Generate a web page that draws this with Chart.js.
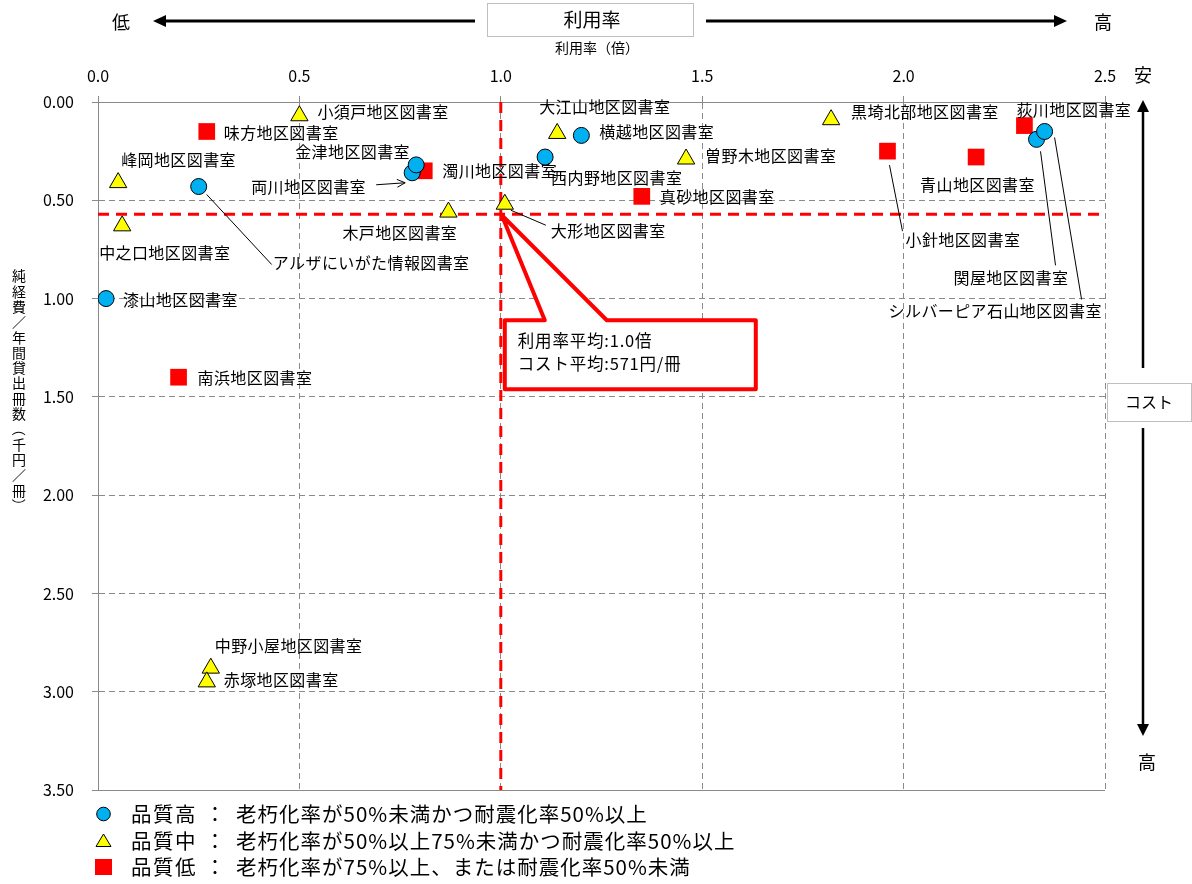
<!DOCTYPE html>
<html><head><meta charset="utf-8">
<script src="https://cdn.jsdelivr.net/npm/chart.js@4.4.1/dist/chart.umd.min.js"></script>
<style>html,body{margin:0;padding:0;background:#fff;}#wrap{width:1192px;height:884px;position:relative;}</style>
</head><body><div id="wrap"><canvas id="c" width="1192" height="884"></canvas></div>
<script>
// ---- data ----
const xTickStep = 0.5, xMin = 0, xMax = 2.5;
const yTickStep = 0.5, yMin = 0, yMax = 3.5;

const highNames = ['漆山地区図書室','アルザにいがた情報図書室','両川地区図書室','金津地区図書室','西内野地区図書室','横越地区図書室','関屋地区図書室','シルバーピア石山地区図書室'];
const highX = [0.02, 0.25, 0.78, 0.79, 1.11, 1.20, 2.33, 2.35];
const highY = [1.00, 0.43, 0.36, 0.32, 0.28, 0.17, 0.19, 0.15];

const midNames = ['小須戸地区図書室','峰岡地区図書室','中之口地区図書室','木戸地区図書室','大形地区図書室','大江山地区図書室','曽野木地区図書室','黒埼北部地区図書室','中野小屋地区図書室','赤塚地区図書室'];
const midX = [0.50, 0.05, 0.06, 0.87, 1.01, 1.14, 1.46, 1.82, 0.28, 0.27];
const midY = [0.07, 0.41, 0.63, 0.56, 0.52, 0.16, 0.29, 0.09, 2.88, 2.95];

const lowNames = ['味方地区図書室','濁川地区図書室','真砂地区図書室','小針地区図書室','青山地区図書室','荻川地区図書室','南浜地区図書室'];
const lowX = [0.27, 0.81, 1.35, 1.96, 2.18, 2.30, 0.20];
const lowY = [0.15, 0.35, 0.48, 0.25, 0.28, 0.12, 1.40];

const avgUsage = 1.0;
const avgCost = 0.571;
const seriesNames = ['品質高','品質中','品質低'];
const seriesNotes = ['老朽化率が50%未満かつ耐震化率50%以上','老朽化率が50%以上75%未満かつ耐震化率50%以上','老朽化率が75%以上、または耐震化率50%未満'];
const calloutLines = ['利用率平均:1.0倍','コスト平均:571円/冊'];
const xTitle = '利用率（倍）';
const yTitle = '純経費／年間貸出冊数（千円／冊）';

// ---- label placement (pixel offsets from each point) ----
const labelLayout = {
 '漆山地区図書室': {dx:17, dy:1},
 'アルザにいがた情報図書室': {dx:74, dy:76, line:[8,8,73,78]},
 '両川地区図書室': {dx:-161, dy:14, arrow:[-36,12,-7,10]},
 '金津地区図書室': {dx:-121, dy:-13},
 '西内野地区図書室': {dx:6, dy:21},
 '横越地区図書室': {dx:18, dy:-3},
 '関屋地区図書室': {dx:-83, dy:139, line:[4,12,19,126]},
 'シルバーピア石山地区図書室': {dx:-156, dy:179, line:[10,6,37,168]},
 '小須戸地区図書室': {dx:18, dy:-4},
 '峰岡地区図書室': {dx:3, dy:-23},
 '中之口地区図書室': {dx:-23, dy:27},
 '木戸地区図書室': {dx:-106, dy:21},
 '大形地区図書室': {dx:46, dy:27, line:[6,6,41,21]},
 '大江山地区図書室': {dx:-18, dy:-27},
 '曽野木地区図書室': {dx:19, dy:-3},
 '黒埼北部地区図書室': {dx:20, dy:-8},
 '中野小屋地区図書室': {dx:4, dy:-22},
 '赤塚地区図書室': {dx:17, dy:-2},
 '味方地区図書室': {dx:17, dy:1},
 '濁川地区図書室': {dx:18, dy:0},
 '真砂地区図書室': {dx:18, dy:1},
 '小針地区図書室': {dx:18, dy:89, line:[2,14,15,80]},
 '青山地区図書室': {dx:-56, dy:28},
 '荻川地区図書室': {dx:-8, dy:-16},
 '南浜地区図書室': {dx:19, dy:1}
};

const F = "'Noto Sans CJK JP', 'Noto Sans', sans-serif";
Chart.defaults.font.family = F;
Chart.defaults.color = '#000';
const GRID = '#8a8a8a';
const toPts = (xs, ys) => xs.map((v, i) => ({x: v, y: ys[i]}));
const namesByDs = [highNames, midNames, lowNames];

function arrowHead(ctx, x, y, dir, len, half) {
  ctx.beginPath();
  if (dir === 'left') { ctx.moveTo(x, y); ctx.lineTo(x + len, y - half); ctx.lineTo(x + len, y + half); }
  if (dir === 'right') { ctx.moveTo(x, y); ctx.lineTo(x - len, y - half); ctx.lineTo(x - len, y + half); }
  if (dir === 'up') { ctx.moveTo(x, y); ctx.lineTo(x - half, y + len); ctx.lineTo(x + half, y + len); }
  if (dir === 'down') { ctx.moveTo(x, y); ctx.lineTo(x - half, y - len); ctx.lineTo(x + half, y - len); }
  ctx.closePath(); ctx.fill();
}

const decoPlugin = {
  id: 'deco',
  afterDatasetsDraw(chart) {
    const ctx = chart.ctx;
    ctx.save();
    // point labels
    ctx.font = '16px ' + F;
    ctx.letterSpacing = '0.4px';
    ctx.fillStyle = '#000';
    ctx.strokeStyle = '#000';
    ctx.lineWidth = 1;
    ctx.textAlign = 'left';
    ctx.textBaseline = 'middle';
    for (let d = 0; d < 3; d++) {
      const meta = chart.getDatasetMeta(d);
      meta.data.forEach((el, j) => {
        const name = namesByDs[d][j];
        const L = labelLayout[name];
        if (!L) return;
        const px = el.x, py = el.y;
        if (L.line) {
          ctx.beginPath(); ctx.moveTo(px + L.line[0], py + L.line[1]); ctx.lineTo(px + L.line[2], py + L.line[3]); ctx.stroke();
        }
        if (L.arrow) {
          const x1 = px + L.arrow[0], y1 = py + L.arrow[1], x2 = px + L.arrow[2], y2 = py + L.arrow[3];
          ctx.beginPath(); ctx.moveTo(x1, y1); ctx.lineTo(x2, y2); ctx.stroke();
          const a = Math.atan2(y2 - y1, x2 - x1);
          ctx.beginPath();
          ctx.moveTo(x2 - 9 * Math.cos(a - 0.45), y2 - 9 * Math.sin(a - 0.45));
          ctx.lineTo(x2, y2);
          ctx.lineTo(x2 - 9 * Math.cos(a + 0.45), y2 - 9 * Math.sin(a + 0.45));
          ctx.stroke();
        }
        ctx.fillText(name, px + L.dx, py + L.dy);
      });
    }
    // callout
    const xs = chart.scales.x, ys = chart.scales.y;
    const ax = xs.getPixelForValue(avgUsage), ay = ys.getPixelForValue(avgCost);
    const L = ax + 4, R = ax + 255, T = ay + 106, B = ay + 175;
    ctx.beginPath();
    ctx.moveTo(L, T); ctx.lineTo(ax + 44, T); ctx.lineTo(ax + 1, ay + 1); ctx.lineTo(ax + 106, T);
    ctx.lineTo(R, T); ctx.lineTo(R, B); ctx.lineTo(L, B); ctx.closePath();
    ctx.fillStyle = '#fff'; ctx.fill();
    ctx.strokeStyle = '#ff0000'; ctx.lineWidth = 4; ctx.lineJoin = 'round'; ctx.stroke();
    ctx.fillStyle = '#000';
    ctx.font = '16.5px ' + F;
    ctx.letterSpacing = '0.8px';
    ctx.fillText(calloutLines[0], L + 13, T + 20);
    ctx.fillText(calloutLines[1], L + 13, T + 43);
    ctx.restore();
  },
  afterDraw(chart) {
    const ctx = chart.ctx;
    ctx.save();
    ctx.fillStyle = '#000'; ctx.strokeStyle = '#000';
    ctx.textBaseline = 'middle'; ctx.textAlign = 'center';
    // top header
    ctx.font = '18px ' + F;
    ctx.fillText('低', 121, 22);
    ctx.fillText('高', 1103, 22);
    ctx.fillText('安', 1143, 75);
    ctx.fillText('高', 1147, 762);
    ctx.lineWidth = 3;
    ctx.beginPath(); ctx.moveTo(475, 21); ctx.lineTo(164, 21); ctx.stroke();
    arrowHead(ctx, 153, 21, 'left', 13, 6);
    ctx.beginPath(); ctx.moveTo(706, 21); ctx.lineTo(1056, 21); ctx.stroke();
    arrowHead(ctx, 1067, 21, 'right', 13, 6);
    ctx.lineWidth = 2.5;
    ctx.beginPath(); ctx.moveTo(1143, 368); ctx.lineTo(1143, 110); ctx.stroke();
    arrowHead(ctx, 1143, 100, 'up', 12, 6);
    ctx.beginPath(); ctx.moveTo(1143, 428); ctx.lineTo(1143, 724); ctx.stroke();
    arrowHead(ctx, 1143, 736, 'down', 12, 6);
    // boxes
    ctx.strokeStyle = '#bfbfbf'; ctx.lineWidth = 1;
    ctx.strokeRect(487.5, 3.5, 206, 33);
    ctx.strokeRect(1107.5, 383.5, 84, 38);
    ctx.font = '19px ' + F;
    ctx.fillText('利用率', 592, 20);
    ctx.font = '16px ' + F;
    ctx.fillText('コスト', 1149, 402);
    ctx.font = '14px ' + F;
    ctx.fillText(xTitle, 597, 48);
    // vertical y title
    ctx.font = '14px ' + F;
    const chars = Array.from(yTitle);
    chars.forEach((c, i) => {
      const cy = 276 + i * 15.3;
      if (c === '（' || c === '）') {
        ctx.save(); ctx.translate(19, cy); ctx.rotate(Math.PI / 2); ctx.fillText(c, 0, 0); ctx.restore();
      } else {
        ctx.fillText(c, 19, cy);
      }
    });
    // legend
    const rows = [814, 841, 867];
    // circle
    ctx.fillStyle = '#00B0F0'; ctx.strokeStyle = '#000'; ctx.lineWidth = 1;
    ctx.beginPath(); ctx.arc(103.5, rows[0], 6.8, 0, Math.PI * 2); ctx.fill(); ctx.stroke();
    // triangle
    ctx.fillStyle = '#FFFF00';
    ctx.beginPath(); ctx.moveTo(103.5, rows[1] - 7); ctx.lineTo(111, rows[1] + 5.5); ctx.lineTo(96, rows[1] + 5.5); ctx.closePath(); ctx.fill(); ctx.stroke();
    // square
    ctx.fillStyle = '#FF0000';
    ctx.fillRect(95, rows[2] - 8, 17, 16);
    ctx.fillStyle = '#000';
    ctx.textAlign = 'left';
    rows.forEach((y, i) => {
      ctx.font = '20.5px ' + F;
      ctx.letterSpacing = '1.5px';
      ctx.fillText(seriesNames[i], 131, y);
      ctx.letterSpacing = '0px';
      ctx.textAlign = 'center';
      ctx.fillText('：', 215, y);
      ctx.textAlign = 'left';
      ctx.font = '20.5px ' + F;
      ctx.letterSpacing = '1px';
      ctx.fillText(seriesNotes[i], 236, y);
    });
    ctx.restore();
  }
};

const cfg = {
  type: 'scatter',
  data: {
    datasets: [
      {label: seriesNames[0], data: toPts(highX, highY), pointStyle: 'circle', pointRadius: 8, pointHoverRadius: 8,
       backgroundColor: '#00B0F0', borderColor: '#000', borderWidth: 1, order: 1},
      {label: seriesNames[1], data: toPts(midX, midY), pointStyle: 'triangle', pointRadius: 10, pointHoverRadius: 10,
       backgroundColor: '#FFFF00', borderColor: '#000', borderWidth: 1, order: 2},
      {label: seriesNames[2], data: toPts(lowX, lowY), pointStyle: 'rect', pointRadius: 11.8, pointHoverRadius: 11.8,
       backgroundColor: '#FF0000', borderColor: '#FF0000', borderWidth: 0, order: 3},
      {type: 'line', label: 'avgX', data: [{x: avgUsage, y: yMin}, {x: avgUsage, y: yMax}], borderColor: '#FF0000',
       borderWidth: 3, borderDash: [11, 7], pointRadius: 0, showLine: true, fill: false, order: 10},
      {type: 'line', label: 'avgY', data: [{x: xMin, y: avgCost}, {x: xMax, y: avgCost}], borderColor: '#FF0000',
       borderWidth: 3, borderDash: [11, 7], pointRadius: 0, showLine: true, fill: false, order: 10}
    ]
  },
  options: {
    responsive: false,
    animation: false,
    events: [],
    layout: {padding: {left: 0, top: 0, right: 87, bottom: 94}},
    plugins: {legend: {display: false}, tooltip: {enabled: false}},
    scales: {
      x: {
        type: 'linear', position: 'top', min: xMin, max: xMax,
        afterFit: s => { s.height = 102; },
        ticks: {stepSize: xTickStep, callback: v => Number(v).toFixed(1), font: {size: 16}, color: '#000', padding: 10, maxRotation: 0},
        grid: {color: GRID, lineWidth: 1, tickLength: 6, tickColor: GRID},
        border: {display: true, color: GRID, width: 1, dash: [6, 4]}
      },
      y: {
        type: 'linear', reverse: true, min: yMin, max: yMax,
        afterFit: s => { s.width = 98; },
        ticks: {stepSize: yTickStep, callback: v => Number(v).toFixed(2), font: {size: 16}, color: '#000', padding: 18},
        grid: {color: GRID, lineWidth: 1, tickLength: 6, tickColor: GRID},
        border: {display: true, color: GRID, width: 1, dash: (c) => (c.tick && c.tick.value === yMax) ? [] : [6, 4]}
      }
    }
  },
  plugins: [decoPlugin]
};
new Chart(document.getElementById('c'), cfg);
</script></body></html>
